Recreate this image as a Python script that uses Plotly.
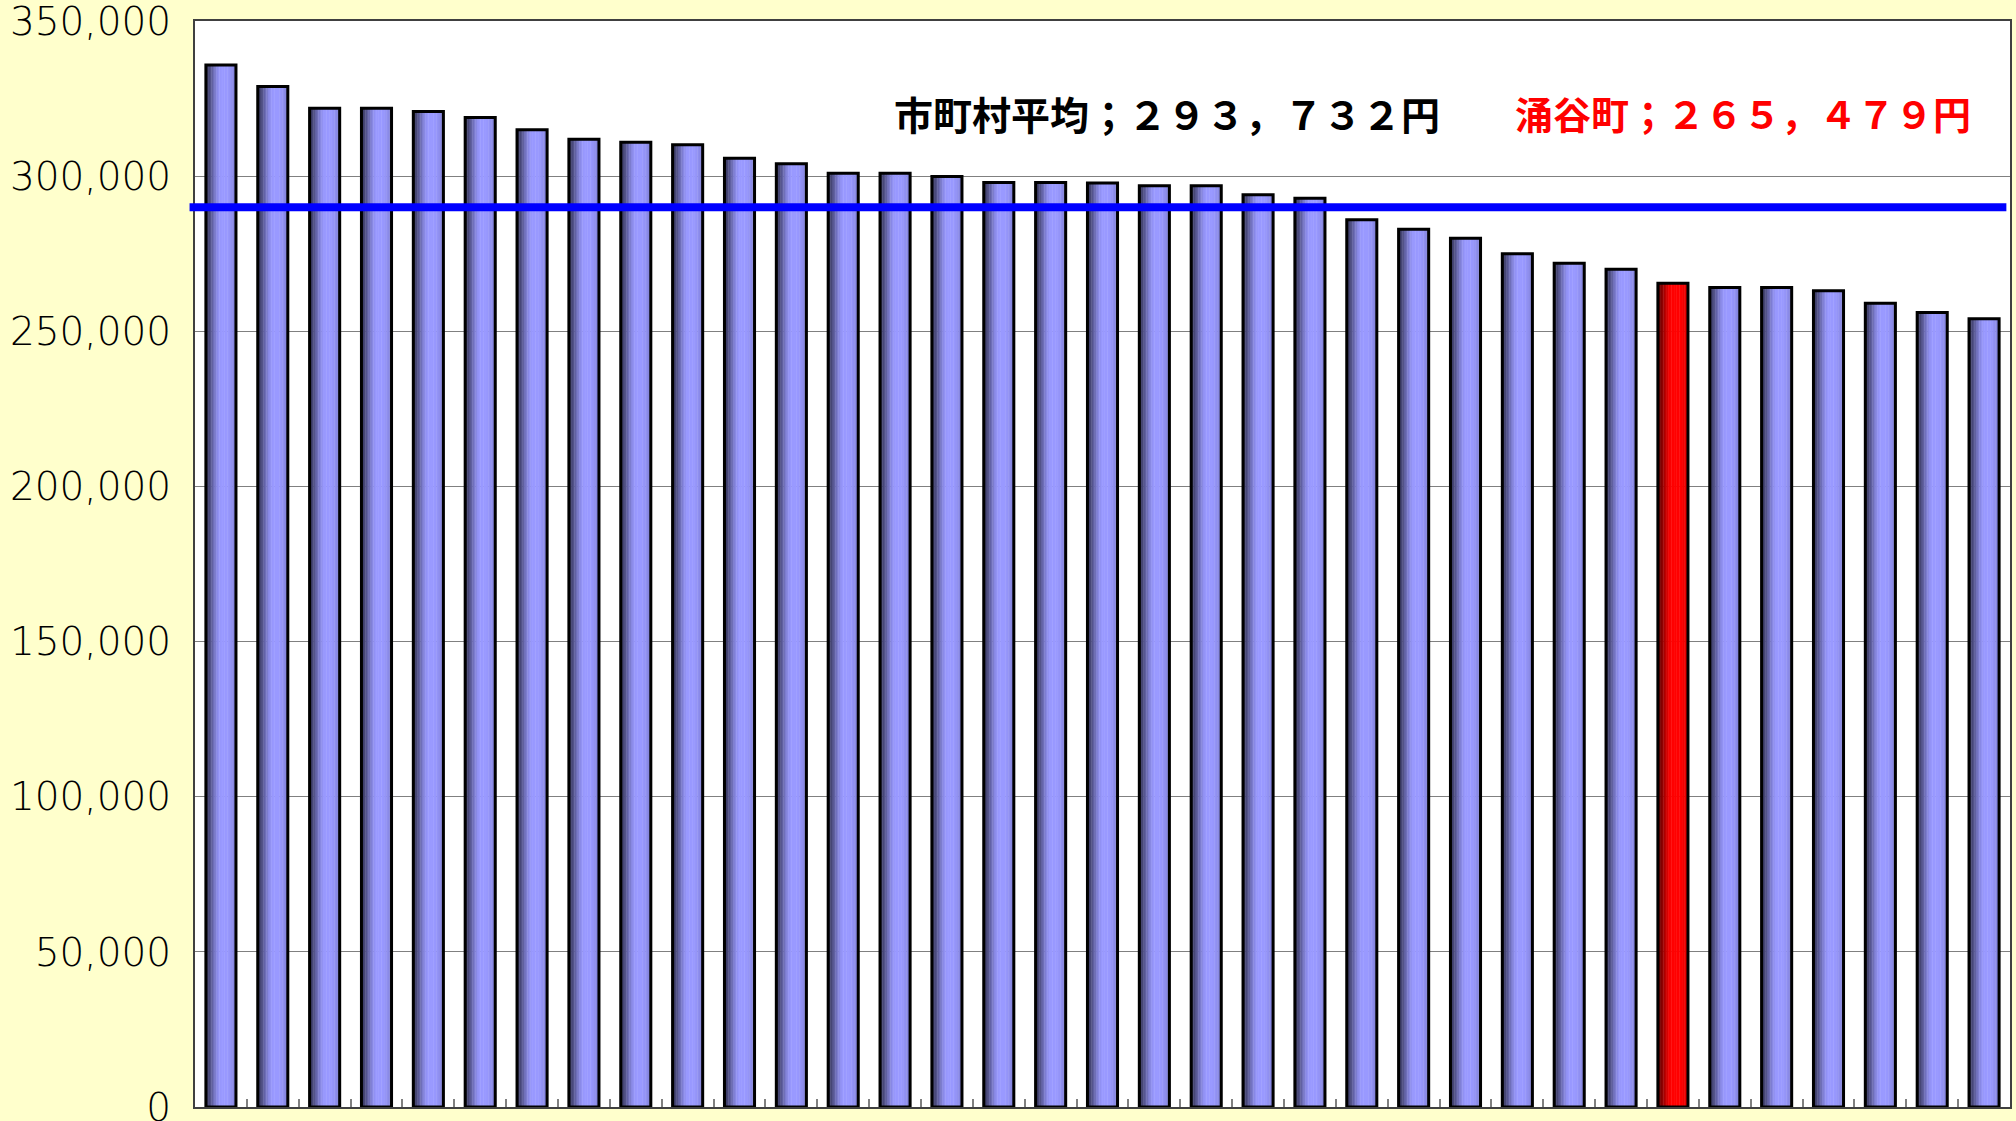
import plotly.graph_objects as go

# ---- data ----
values = [335800, 328900, 321900, 321900, 320850, 318900, 314950, 311900, 310950, 310100,
          305800, 304000, 300950, 300950, 299900, 297950, 297950, 297800, 296900, 296900,
          294000, 292900, 285950, 282900, 280000, 275000, 271950, 270000, 265479, 264100,
          264100, 263050, 259050, 256050, 254050]
highlight_index = 28            # 涌谷町
avg_line_value = 290000         # position of the blue reference line
y_ticks = [0, 50000, 100000, 150000, 200000, 250000, 300000, 350000]
label_avg = "市町村平均；２９３，７３２円"
label_town = "涌谷町；２６５，４７９円"

# ---- styling ----
n = len(values)
xs = list(range(n))
BAR_W = 0.58
blue = (153, 153, 255)
red = (255, 0, 0)
# brightness profile across a bar (left -> right) to imitate the gradient fill
profile = [0.40, 0.46, 0.54, 0.63, 0.72, 0.81, 0.89, 0.95, 0.99, 1.0, 1.0, 1.0, 1.0, 0.99,
           0.97, 0.94, 0.90, 0.84]
red_profile = [0.42, 0.48, 0.56, 0.65, 0.75, 0.85, 0.93, 0.98, 1.0, 1.0, 1.0, 1.0, 1.0, 1.0,
               0.98, 0.95, 0.92, 0.88]


def shade(rgb, f):
    return "rgb(%d,%d,%d)" % tuple(int(round(c * f)) for c in rgb)


fig = go.Figure()
ns = len(profile)
inner = BAR_W * 0.96
sw = inner / ns
for i in range(ns):
    cols = [shade(red, red_profile[i]) if k == highlight_index else shade(blue, profile[i])
            for k in xs]
    fig.add_trace(go.Bar(
        x=xs, y=values, width=sw * 1.25, offset=-inner / 2 + i * sw,
        marker=dict(color=cols, line=dict(width=0)),
        showlegend=False, hoverinfo="skip"))

# outline
fig.add_trace(go.Bar(
    x=xs, y=values, width=BAR_W,
    marker=dict(color="rgba(0,0,0,0)", line=dict(color="black", width=3)),
    showlegend=False))

fig.add_shape(type="line", xref="paper", yref="y", x0=-0.003, x1=0.998,
              y0=avg_line_value, y1=avg_line_value,
              line=dict(color="#0000FF", width=8), layer="above")

fig.add_annotation(x=0.5353, y=0.9155, xref="paper", yref="paper", xanchor="center",
                   yanchor="middle", text="<b>%s</b>" % label_avg, showarrow=False,
                   font=dict(family="Noto Sans CJK JP", size=39, color="black"))
fig.add_annotation(x=0.8530, y=0.9155, xref="paper", yref="paper", xanchor="center",
                   yanchor="middle", text="<b>%s</b>" % label_town, showarrow=False,
                   font=dict(family="Noto Sans CJK JP", size=38, color="#FF0000"))

fig.update_layout(
    width=2016, height=1121,
    margin=dict(l=195, r=6, t=21, b=14, autoexpand=False),
    paper_bgcolor="#FFFFCC", plot_bgcolor="white",
    barmode="overlay", bargap=0.2,
    xaxis=dict(range=[-0.5, n - 0.5], tickvals=[k + 0.5 for k in xs[:-1]],
               ticktext=["" for _ in xs[:-1]], ticks="inside", ticklen=8,
               tickcolor="#808080", tickwidth=2, showgrid=False,
               showline=True, mirror=True, linecolor="#404040", linewidth=2,
               zeroline=False, automargin=False),
    yaxis=dict(range=[0, 350000], tickvals=y_ticks, tickformat=",",
               showgrid=True, gridcolor="#808080", gridwidth=1,
               showline=True, mirror=True, linecolor="#404040", linewidth=2,
               zeroline=False, ticks="", ticklabelstandoff=14,
               ticklabeloverflow="allow", automargin=False,
               tickfont=dict(family="DejaVu Sans", size=39, color="black", weight=300)),
)

fig.write_html("out.html")
